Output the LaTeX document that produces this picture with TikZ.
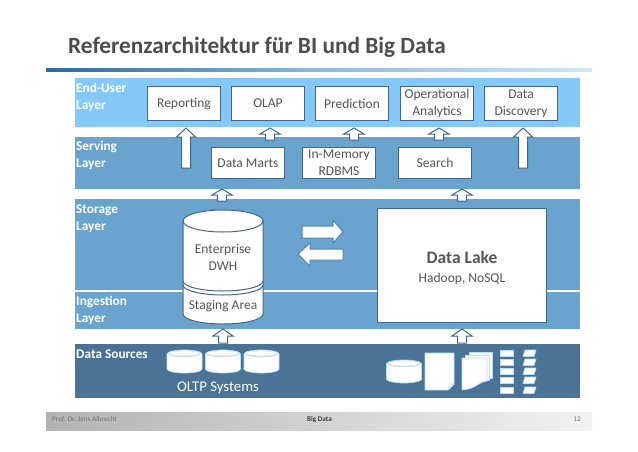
\documentclass[tikz,border=0pt]{standalone}
\usepackage{fontspec}
\setmainfont{Carlito}
\usetikzlibrary{calc}
\definecolor{bandA}{HTML}{85C9FB}
\definecolor{bandB}{HTML}{69A3CE}
\definecolor{bandC}{HTML}{4A7396}
\definecolor{edgeC}{HTML}{41688A}
\definecolor{edgeD}{HTML}{4F86B0}
\definecolor{txt}{HTML}{555555}
\definecolor{ttl}{HTML}{4D4D4D}
\definecolor{ruleA}{HTML}{2A6AA0}
\definecolor{ruleB}{HTML}{8CBBDF}
\definecolor{ruleC}{HTML}{CFE6F7}
\definecolor{paleI}{HTML}{C9DFEF}
\tikzset{
 x=1pt,y=-1pt,
 band/.style={fill=#1,draw=none},
 lbl/.style={text=white,font=\fontsize{13.3}{17}\selectfont\bfseries,anchor=north west,inner sep=0pt,align=left},
 boxn/.style={draw=edgeC,line width=1pt,fill=white,text=txt,font=\fontsize{13.5}{17}\selectfont,align=center,anchor=north west,inner sep=0pt},
 arr/.style={draw=edgeC,line width=1pt,fill=white,line join=miter},
 ico/.style={fill=white,draw=bandA!60!white,line width=.7pt,line join=round},
}
\newcommand{\uparr}[7]{% name cx tip base bottom halfshaft halfhead
 \draw[arr] (#2,#3) -- (#2+#7,#4) -- (#2+#6,#4) -- (#2+#6,#5) -- (#2-#6,#5) -- (#2-#6,#4) -- (#2-#7,#4) -- cycle;}
\newcommand{\smalldb}[2]{% cx top
 \path[ico] (#1-17.5,#2+4) arc[x radius=17.5,y radius=4,start angle=180,end angle=360] -- (#1+17.5,#2+19) arc[x radius=17.5,y radius=4,start angle=0,end angle=180] -- cycle;
 \path[fill=paleI] (#1,#2+4) ellipse[x radius=16.5,y radius=3.2];
 \path[fill=white] (#1,#2+3.4) ellipse[x radius=15,y radius=2.2];}
\begin{document}
\begin{tikzpicture}
\useasboundingbox (0,0) rectangle (638,451);
\fill[white] (0,0) rectangle (638,451);
% title
\node[anchor=west,inner sep=0pt,text=ttl,font=\fontsize{23.3}{28}\selectfont\bfseries] (title) at (68,47) {Referenzarchitektur für BI und Big Data};
\shade[left color=ruleA,right color=ruleC,middle color=ruleB] (46,68) rectangle (592,71);
% bands
\fill[band=bandA] (75,78) rectangle (580,127);
\fill[band=bandB] (75,137) rectangle (580,189);
\fill[band=bandB] (75,199) rectangle (580,290);
\fill[band=bandB] (75,292) rectangle (580,329);
\fill[band=bandC] (75,344) rectangle (580,398);
\node[lbl] (l1) at (76,82.5) {End-User\\Layer};
\node[lbl] (l2) at (76,141) {Serving\\Layer};
\node[lbl] (l3) at (76,204.5) {Storage\\Layer};
\node[lbl] (l4) at (76,296) {Ingestion\\Layer};
\node[lbl] (l5) at (76,349.5) {Data Sources};
% top boxes
\node[boxn,minimum width=73pt,minimum height=34pt] (rep) at (147,86) {Reporting};
\node[boxn,minimum width=73pt,minimum height=34pt] (olap) at (231,86) {OLAP};
\node[boxn,minimum width=73pt,minimum height=34pt] (pred) at (315,86) {Prediction};
\node[boxn,minimum width=73pt,minimum height=34pt] (oper) at (400,86) {Operational\\Analytics};
\node[boxn,minimum width=73pt,minimum height=34pt] (disc) at (484,86) {Data\\Discovery};
\node[boxn,minimum width=73pt,minimum height=31pt] (marts) at (211,147) {Data Marts};
\node[boxn,minimum width=73pt,minimum height=31pt] (rdbms) at (302,147) {In-Memory\\RDBMS};
\node[boxn,minimum width=73pt,minimum height=31pt] (search) at (398,147) {Search};
% lake
\node[boxn,minimum width=169pt,minimum height=114pt] (lake) at (377,208) {\rule{0pt}{18pt}{\fontsize{17.5}{20}\selectfont\bfseries Data Lake}\\[2pt]{\fontsize{13.5}{17}\selectfont Hadoop, NoSQL}};
% up arrows
\uparr{a1}{186}{128}{137}{168}{4.5}{9.5}
\uparr{a2}{523}{128}{137}{168}{4.5}{9.5}
\uparr{a3}{270}{128}{134}{140}{4.5}{10}
\uparr{a4}{354}{128}{134}{140}{4.5}{10}
\uparr{a5}{439}{128}{134}{140}{4.5}{10}
\uparr{a6}{222}{189}{195}{201}{4.5}{10}
\uparr{a7}{462}{189}{195}{201}{4.5}{10}
\uparr{a8}{223}{329}{336}{343}{4.5}{10}
\uparr{a9}{462}{329}{336}{343}{4.5}{10}
% horizontal arrows
\draw[arr,draw=edgeD] (302,226) -- (333,226) -- (333,220) -- (343,232) -- (333,243) -- (333,238) -- (302,238) -- cycle;
\draw[arr,draw=edgeD] (343,249) -- (310,249) -- (310,243) -- (298,254) -- (310,266) -- (310,260) -- (343,260) -- cycle;
% cylinder
\draw[arr] (183,221) -- (183,314) arc[x radius=40,y radius=10,start angle=180,end angle=0] -- (263,221) arc[x radius=40,y radius=11,start angle=0,end angle=-180] -- cycle;
\draw[edgeC,line width=1pt] (183,221) arc[x radius=40,y radius=11,start angle=180,end angle=0];
\draw[edgeC,line width=1pt] (183,281) arc[x radius=40,y radius=10,start angle=180,end angle=0];
\draw[edgeC,line width=1pt] (183,285) arc[x radius=40,y radius=10,start angle=180,end angle=0];
\node[text=txt,font=\fontsize{13.5}{17}\selectfont,align=center,inner sep=0pt] (dwh) at (223,257) {Enterprise\\DWH};
\node[text=txt,font=\fontsize{13.5}{17}\selectfont,inner sep=0pt] (stag) at (223,306) {Staging Area};
% sources
\smalldb{184.5}{350}\smalldb{223}{350}\smalldb{261.5}{350}
\smalldb{404}{360}
\node[text=white,font=\fontsize{14.8}{18}\selectfont,inner sep=0pt] (oltp) at (218,388) {OLTP Systems};
% documents
\path[ico] (425,353) -- (454,353) -- (454,384) -- (448,390) -- (425,390) -- cycle;
\path[ico] (449,384) -- (454,384) -- (449,389) -- cycle;
\path[ico] (469,352) -- (492,352) -- (492,378) -- (469,378) -- cycle;
\path[ico] (465.5,355) -- (489.5,355) -- (489.5,380) -- (465.5,380) -- cycle;
\path[ico] (462,358) -- (487,358) -- (487,381) .. controls (478,382) and (476,389) .. (462,390) -- cycle;
% stacks
\foreach \yy in {350,359,368,377,387} {
 \path[ico] (500,\yy) rectangle (513,\yy+6.5);
 \path[ico] (525,\yy) -- (536,\yy) -- (534,\yy+6.5) -- (523,\yy+6.5) -- cycle;
}
% footer
\shade[left color=black!30,right color=black!5] (46,412) rectangle (592,430);
\node[anchor=west,inner sep=0pt,text=black!55,font=\fontsize{7.2}{8}\selectfont] (f1) at (52,419.5) {Prof. Dr. Jens Albrecht};
\node[inner sep=0pt,text=black!75,font=\fontsize{7.2}{8}\selectfont\bfseries] (f2) at (319.5,419.5) {Big Data};
\node[inner sep=0pt,text=black!55,font=\fontsize{7.2}{8}\selectfont] (f3) at (577,419.5) {12};
\end{tikzpicture}
\end{document}
